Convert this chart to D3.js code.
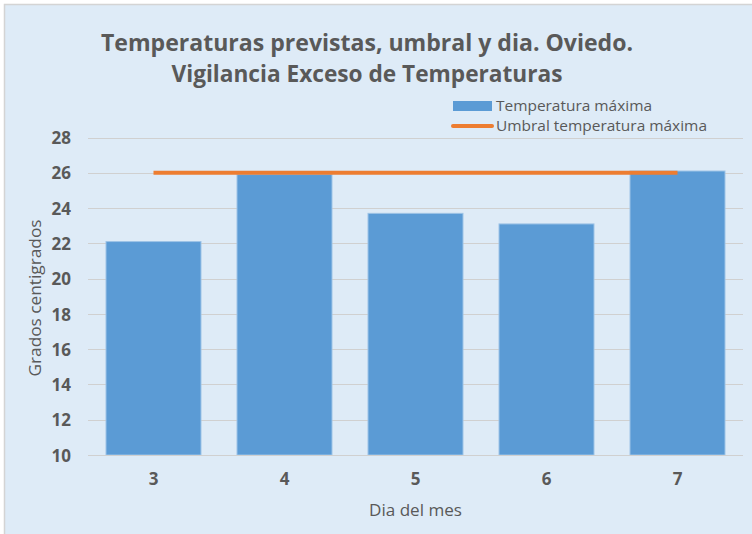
<!DOCTYPE html>
<html>
<head>
<meta charset="utf-8">
<script src="https://cdn.jsdelivr.net/npm/d3@7"></script>
<style>
    html, body { margin: 0; padding: 0; background: #ffffff; }
    svg { display: block; font-family: "Open Sans", sans-serif; }
</style>
</head>
<body>
<div id="chart"></div>
<script>
var dias = ['3', '4', '5', '6', '7'],
    tempMaxima = [22.1, 25.9, 23.7, 23.1, 26.1],
    umbral = [26, 26, 26, 26, 26],
    yTicks = [10, 12, 14, 16, 18, 20, 22, 24, 26, 28],
    titulo = ['Temperaturas previstas, umbral y dia. Oviedo.', 'Vigilancia Exceso de Temperaturas'],
    leyenda = ['Temperatura máxima', 'Umbral temperatura máxima'];

var width = 752,
    height = 534,
    textColor = '#595959';

var svg = d3.select('#chart').append('svg')
    .attr('width', width)
    .attr('height', height);

// fondo del grafico (solo bordes superior e izquierdo visibles)
svg.append('rect')
    .attr('x', 4.5)
    .attr('y', 4.5)
    .attr('width', 900)
    .attr('height', 700)
    .style('fill', '#deebf7')
    .style('stroke', '#d4d4d4')
    .style('stroke-width', 1.5);

var x = d3.scaleBand()
    .domain(dias)
    .range([88, 743])
    .paddingInner(0.275)
    .paddingOuter(0.1375);

var y = d3.scaleLinear()
    .domain([10, 28])
    .range([455, 137.5]);

// lineas de cuadricula
svg.append('g')
    .selectAll('line')
    .data(yTicks)
    .enter()
    .append('line')
    .attr('x1', 88)
    .attr('x2', 743)
    .attr('y1', function(d) { return Math.round(y(d)) + 0.5; })
    .attr('y2', function(d) { return Math.round(y(d)) + 0.5; })
    .style('stroke', '#d0d0d0')
    .style('stroke-width', 1.2);

// eje y
var yAxis = svg.append('g')
    .attr('transform', 'translate(88,0)')
    .attr('font-size', 17)
    .call(d3.axisLeft(y).tickValues(yTicks).tickSize(0).tickPadding(17));
yAxis.attr('font-size', 17).attr('font-family', null);
yAxis.select('.domain').remove();
yAxis.selectAll('text')
    .attr('dy', '0.36em')
    .attr('font-weight', 'bold')
    .attr('fill', textColor);

// barras
svg.append('g')
    .selectAll('rect')
    .data(tempMaxima)
    .enter()
    .append('rect')
    .attr('x', function(d, i) { return x(dias[i]); })
    .attr('y', function(d) { return y(d); })
    .attr('width', x.bandwidth())
    .attr('height', function(d) { return y(10) - y(d); })
    .style('fill', '#5b9bd5')
    .style('stroke', '#9dc3e6')
    .style('stroke-width', 1);

// eje x
var xAxis = svg.append('g')
    .attr('transform', 'translate(0,455)')
    .call(d3.axisBottom(x).tickSize(0).tickPadding(18));
xAxis.attr('font-size', 17).attr('font-family', null);
xAxis.select('.domain')
    .attr('d', 'M88,0.5H743')
    .style('stroke', '#d0d0d0')
    .style('stroke-width', 1.2);
xAxis.selectAll('text')
    .attr('font-weight', 'bold')
    .attr('fill', textColor);

// linea del umbral
var line = d3.line()
    .x(function(d, i) { return x(dias[i]) + x.bandwidth() / 2; })
    .y(function(d) { return y(d); });

svg.append('path')
    .datum(umbral)
    .attr('d', line)
    .style('fill', 'none')
    .style('stroke', '#ed7d31')
    .style('stroke-width', 4);

// titulos
svg.append('g')
    .selectAll('text')
    .data(titulo)
    .enter()
    .append('text')
    .attr('x', 367)
    .attr('y', function(d, i) { return 51 + i * 31; })
    .attr('text-anchor', 'middle')
    .attr('textLength', function(d, i) { return i === 0 ? 532 : 391; })
    .attr('lengthAdjust', 'spacingAndGlyphs')
    .style('font-size', '24px')
    .style('font-weight', 'bold')
    .style('fill', textColor)
    .text(function(d) { return d; });

svg.append('text')
    .attr('x', 415.5)
    .attr('y', 516)
    .attr('text-anchor', 'middle')
    .attr('textLength', 93)
    .attr('lengthAdjust', 'spacingAndGlyphs')
    .style('font-size', '16px')
    .style('fill', textColor)
    .text('Dia del mes');

svg.append('text')
    .attr('transform', 'translate(41,298) rotate(-90)')
    .attr('text-anchor', 'middle')
    .attr('textLength', 157)
    .attr('lengthAdjust', 'spacingAndGlyphs')
    .style('font-size', '16px')
    .style('fill', textColor)
    .text('Grados centigrados');

// leyenda
var legend = svg.append('g');

legend.append('rect')
    .attr('x', 453)
    .attr('y', 101)
    .attr('width', 39)
    .attr('height', 10)
    .style('fill', '#5b9bd5');

legend.append('line')
    .attr('x1', 453)
    .attr('x2', 492)
    .attr('y1', 126)
    .attr('y2', 126)
    .style('stroke', '#ed7d31')
    .style('stroke-width', 4)
    .style('stroke-linecap', 'round');

legend.selectAll('text')
    .data(leyenda)
    .enter()
    .append('text')
    .attr('x', 496)
    .attr('y', function(d, i) { return 111 + i * 20; })
    .attr('textLength', function(d, i) { return i === 0 ? 156 : 211; })
    .attr('lengthAdjust', 'spacingAndGlyphs')
    .style('font-size', '14.5px')
    .style('fill', textColor)
    .text(function(d) { return d; });
</script>
</body>
</html>
